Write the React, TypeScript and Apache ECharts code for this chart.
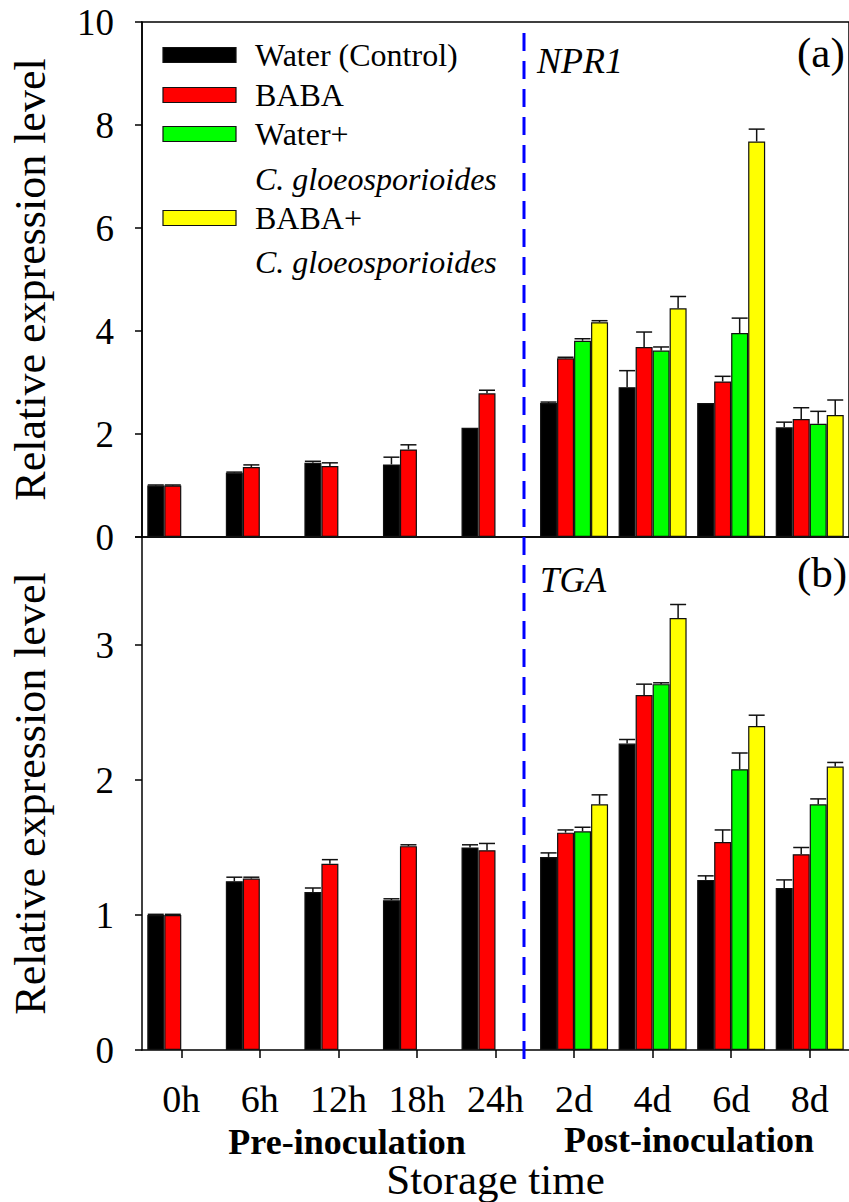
import React, { useEffect, useRef } from "react";
import * as echarts from "echarts";

const categories = ["0h", "6h", "12h", "18h", "24h", "2d", "4d", "6d", "8d"];
const seriesNames = ["Water (Control)", "BABA", "Water+ C. gloeosporioides", "BABA+ C. gloeosporioides"];
const colors = ["#000000", "#ff0000", "#00ff00", "#ffff00"];

// NPR1 (panel a)
const npr1Water = [1.0, 1.25, 1.44, 1.41, 2.12, 2.6, 2.91, 2.6, 2.13];
const npr1WaterErr = [0.01, 0.01, 0.03, 0.14, 0, 0.02, 0.32, 0, 0.1];
const npr1Baba = [1.0, 1.36, 1.38, 1.7, 2.79, 3.47, 3.69, 3.02, 2.29];
const npr1BabaErr = [0.01, 0.04, 0.06, 0.09, 0.06, 0.02, 0.29, 0.1, 0.22];
const npr1WaterCg = ["-", "-", "-", "-", "-", 3.81, 3.62, 3.96, 2.2];
const npr1WaterCgErr = [0, 0, 0, 0, 0, 0.04, 0.07, 0.29, 0.24];
const npr1BabaCg = ["-", "-", "-", "-", "-", 4.17, 4.44, 7.68, 2.37];
const npr1BabaCgErr = [0, 0, 0, 0, 0, 0.03, 0.23, 0.24, 0.29];

// TGA (panel b)
const tgaWater = [1.0, 1.25, 1.17, 1.11, 1.5, 1.43, 2.27, 1.26, 1.2];
const tgaWaterErr = [0.005, 0.03, 0.03, 0.01, 0.02, 0.03, 0.03, 0.03, 0.06];
const tgaBaba = [1.0, 1.27, 1.38, 1.51, 1.48, 1.61, 2.63, 1.54, 1.45];
const tgaBabaErr = [0.005, 0.01, 0.03, 0.01, 0.05, 0.02, 0.08, 0.09, 0.05];
const tgaWaterCg = ["-", "-", "-", "-", "-", 1.62, 2.71, 2.08, 1.82];
const tgaWaterCgErr = [0, 0, 0, 0, 0, 0.03, 0.01, 0.12, 0.04];
const tgaBabaCg = ["-", "-", "-", "-", "-", 1.82, 3.2, 2.4, 2.1];
const tgaBabaCgErr = [0, 0, 0, 0, 0, 0.07, 0.1, 0.08, 0.03];

const yTicksA = [0, 2, 4, 6, 8, 10];
const yTicksB = [0, 1, 2, 3];

const FONT = "'Liberation Serif', 'Times New Roman', serif";
const BAR_W = 17;

export default function App() {
  const ref = useRef<HTMLDivElement>(null);

  useEffect(() => {
    document.body.style.margin = "0";
    if (!ref.current) return;
    const chart = echarts.init(ref.current, null, { renderer: "svg" });

    const panels = [
      { vals: [npr1Water, npr1Baba, npr1WaterCg, npr1BabaCg], errs: [npr1WaterErr, npr1BabaErr, npr1WaterCgErr, npr1BabaCgErr] },
      { vals: [tgaWater, tgaBaba, tgaWaterCg, tgaBabaCg], errs: [tgaWaterErr, tgaBabaErr, tgaWaterCgErr, tgaBabaCgErr] },
    ];

    const series: any[] = [];
    panels.forEach((p, g) => {
      p.vals.forEach((vals, s) => {
        series.push({
          type: "bar",
          name: seriesNames[s],
          xAxisIndex: g,
          yAxisIndex: g,
          data: vals,
          barWidth: BAR_W,
          barGap: "0%",
          itemStyle: { color: colors[s], borderColor: "#111", borderWidth: 1.2 },
          z: 2,
        });
      });
      p.vals.forEach((vals, s) => {
        const data: any[] = [];
        vals.forEach((v, i) => {
          if (typeof v === "number" && p.errs[s][i] > 0) data.push([i, v, p.errs[s][i]]);
        });
        const offset = (s - 1.5) * BAR_W;
        series.push({
          type: "custom",
          xAxisIndex: g,
          yAxisIndex: g,
          data,
          encode: { x: 0, y: 1 },
          z: 5,
          renderItem: (params: any, api: any) => {
            const ci = api.value(0);
            const v = api.value(1);
            const e = api.value(2);
            const b = api.coord([ci, v]);
            const t = api.coord([ci, v + e]);
            const x = b[0] + offset;
            const st = { stroke: "#111", lineWidth: 1.5 };
            return {
              type: "group",
              children: [
                { type: "line", shape: { x1: x, y1: b[1], x2: x, y2: t[1] }, style: st },
                { type: "line", shape: { x1: x - 8, y1: t[1], x2: x + 8, y2: t[1] }, style: st },
              ],
            };
          },
        });
      });
    });

    const yName = "Relative expression level";
    const axisLine = { show: true, lineStyle: { color: "#000", width: 1.5 } };

    const legendGraphics: any[] = [];
    const legendRows = [
      { c: colors[0], y: 55, t: "Water (Control)", it: false },
      { c: colors[1], y: 95, t: "BABA", it: false },
      { c: colors[2], y: 134, t: "Water+", it: false },
      { c: null, y: 179, t: "C. gloeosporioides", it: true },
      { c: colors[3], y: 218, t: "BABA+", it: false },
      { c: null, y: 262, t: "C. gloeosporioides", it: true },
    ];
    legendRows.forEach((r) => {
      if (r.c) {
        legendGraphics.push({
          type: "rect",
          shape: { x: 163, y: r.y - 7.5, width: 73, height: 15 },
          style: { fill: r.c, stroke: "#111", lineWidth: 1.2 },
        });
      }
      legendGraphics.push({
        type: "text",
        x: 255,
        y: r.y,
        style: {
          text: r.t,
          fontFamily: FONT,
          fontSize: 32,
          fontStyle: r.it ? "italic" : "normal",
          fill: "#000",
          verticalAlign: "middle",
          align: "left",
        },
      });
    });

    const txt = (text: string, x: number, y: number, size: number, extra: any = {}) => ({
      type: "text",
      x,
      y,
      style: { text, fontFamily: FONT, fontSize: size, fill: "#000", align: "left", verticalAlign: "middle", ...extra },
    });

    chart.setOption({
      animation: false,
      grid: [
        { left: 140, top: 22, width: 714, height: 515, show: true, borderColor: "#000", borderWidth: 1.5, backgroundColor: "transparent" },
        { left: 140, top: 537, width: 714, height: 515 },
      ],
      xAxis: [
        {
          type: "category",
          gridIndex: 0,
          data: categories,
          axisLine,
          axisTick: { show: false },
          axisLabel: { show: false },
        },
        {
          type: "category",
          gridIndex: 1,
          data: categories,
          axisLine,
          axisTick: { show: true, alignWithLabel: true, length: 8, lineStyle: { color: "#000", width: 1.5 } },
          axisLabel: { color: "#000", fontFamily: FONT, fontSize: 38, margin: 30 },
          name: "Storage time",
          nameLocation: "middle",
          nameGap: 108,
          nameTextStyle: { color: "#000", fontFamily: FONT, fontSize: 43 },
        },
      ],
      yAxis: [
        {
          type: "value",
          gridIndex: 0,
          min: yTicksA[0],
          max: yTicksA[yTicksA.length - 1],
          interval: 2,
          axisLine,
          axisTick: { show: true, length: 7, lineStyle: { color: "#000", width: 1.5 } },
          axisLabel: { color: "#000", fontFamily: FONT, fontSize: 37, margin: 28 },
          splitLine: { show: false },
          name: yName,
          nameLocation: "middle",
          nameGap: 90,
          nameTextStyle: { color: "#000", fontFamily: FONT, fontSize: 44 },
        },
        {
          type: "value",
          gridIndex: 1,
          min: yTicksB[0],
          max: 3.8,
          interval: 1,
          axisLine,
          axisTick: { show: true, length: 7, lineStyle: { color: "#000", width: 1.5 } },
          axisLabel: {
            color: "#000",
            fontFamily: FONT,
            fontSize: 37,
            margin: 28,
            formatter: (v: number) => (yTicksB.indexOf(v) >= 0 ? String(v) : ""),
          },
          splitLine: { show: false },
          name: yName,
          nameLocation: "middle",
          nameGap: 90,
          nameTextStyle: { color: "#000", fontFamily: FONT, fontSize: 44 },
        },
      ],
      series,
      graphic: [
        {
          type: "line",
          shape: { x1: 524, y1: 33, x2: 524, y2: 1063 },
          style: { stroke: "#0000ff", lineWidth: 3, lineDash: [18, 10] },
          z: 10,
        },
        ...legendGraphics,
        txt("NPR1", 537, 61, 36, { fontStyle: "italic" }),
        txt("(a)", 797, 52, 43),
        txt("TGA", 540, 580, 35, { fontStyle: "italic" }),
        txt("(b)", 797, 572, 43),
        txt("Pre-inoculation", 347, 1142, 36, { fontWeight: "bold", align: "center" }),
        txt("Post-inoculation", 689, 1140, 36, { fontWeight: "bold", align: "center" }),
      ],
    });

    return () => chart.dispose();
  }, []);

  return <div ref={ref} style={{ width: 849, height: 1202 }} />;
}
